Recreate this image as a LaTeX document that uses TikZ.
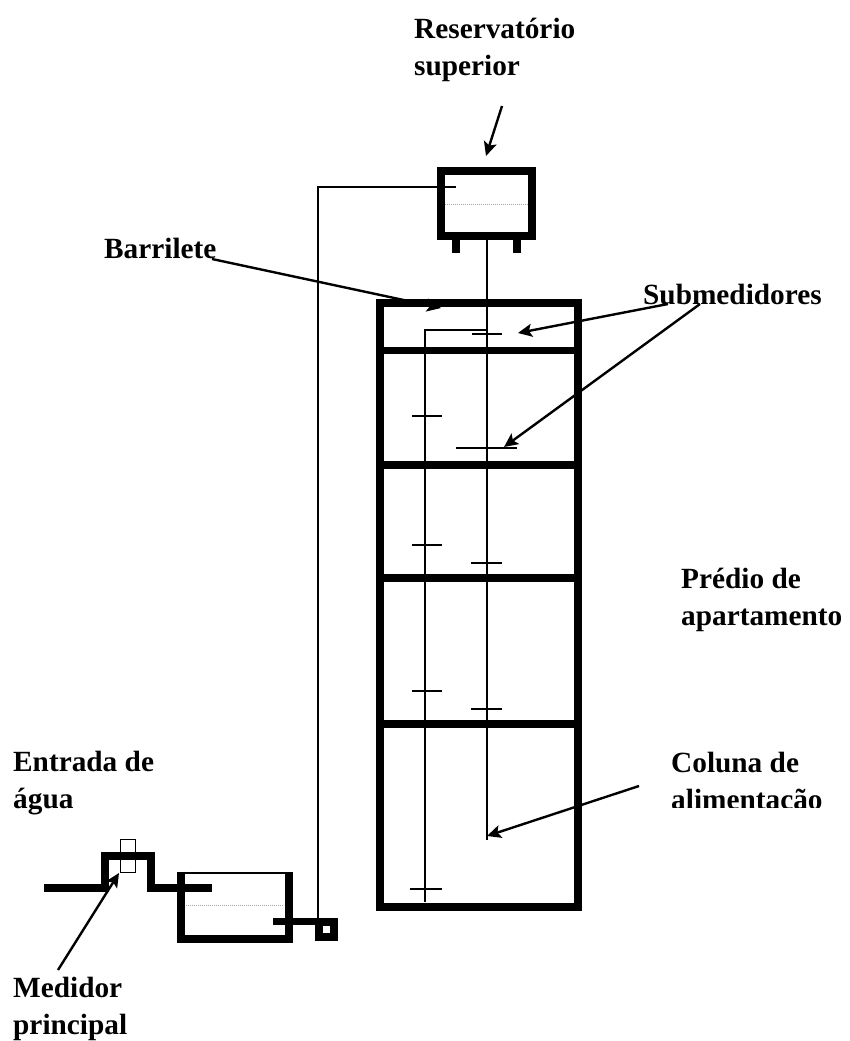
\documentclass[tikz,border=0pt]{standalone}
\usepackage{fontspec}
\setmainfont{Liberation Serif}
\usetikzlibrary{positioning}
\usetikzlibrary{arrows, shapes, arrows.meta}
\tikzstyle{lbl} = [font=\fontsize{29.3}{36.5}\selectfont\bfseries, align=left, inner sep=0pt, anchor=north west]
\tikzstyle{wall} = [draw=black, line width=8pt, line join=miter, inner sep=0pt]
\tikzstyle{pipe} = [line width=2pt]
\tikzstyle{submark} = [line width=1.5pt]
\tikzstyle{waterlevel} = [draw=gray!70, line width=1pt, densely dotted]
\tikzstyle{arrow} = [line width=2.4pt,-{Stealth[length=14pt,width=13pt,inset=3pt]}]

\begin{document}
\begin{tikzpicture}[x=1pt,y=-1pt]
        \useasboundingbox (0,0) rectangle (850,1041);
        % labels
        \node[lbl] (Rs) at (414,18) {Reservat\'orio\\superior};
        \node[lbl] (Ba) at (104,238) {Barrilete};
        \node[lbl] (Su) at (643,283.5) {Submedidores};
        \node[lbl] (Pr) at (681,568) {Pr\'edio de\\apartamento};
        \node[lbl] (En) at (13,751) {Entrada de\\\'agua};
        \node[lbl] (Me) at (13,977) {Medidor\\principal};
        \begin{scope}
            \clip (660,740) rectangle (850,807);
            \node[lbl] (Co) at (671,752) {Coluna de\\alimenta\c{c}\~ao};
        \end{scope}

        \coordinate (RsT) at (502,106);
        \coordinate (RsH) at (486,156);
        \coordinate (BaT) at (212,259);
        \coordinate (BaH) at (441,308);
        \coordinate (SuA) at (668,304);
        \coordinate (SuB) at (518,333);
        \coordinate (SuC) at (700,304);
        \coordinate (SuD) at (504,447);
        \coordinate (CoT) at (639,786);
        \coordinate (CoH) at (487,836);
        \coordinate (MeT) at (58,970);
        \coordinate (MeH) at (119,873);

        % this one runs under the wall
        \path [arrow] (BaT) edge (BaH);

        % building
        \node[wall,minimum width=198pt,minimum height=603.5pt] (Pd) at (479,604.75) {};
        \foreach \y in {350.5,465,578,724} {
            \draw[line width=7.5pt] (Pd.west |- 0,\y) -- (Pd.east |- 0,\y);
        }

        % upper tank
        \draw[waterlevel] (445,204) -- (528,204);
        \node[wall,minimum width=91pt,minimum height=65pt] (Rv) at (486.5,203.5) {};
        \fill (452,240) rectangle (460,253);
        \fill (513,240) rectangle (521,253);
        \coordinate (Cl) at (486.5,840);
        \draw[pipe] (Rv.south) -- (Cl);

        % lower tank and inlet
        \node[draw=black,line width=2pt,minimum width=106pt,minimum height=65pt,inner sep=0pt] (Tq) at (235,905) {};
        \draw[line width=8pt] (Tq.north west) -- (Tq.south west) -- (Tq.south east) -- (Tq.north east);
        \draw[waterlevel] (186,905) -- (284,905);
        \draw[line width=8pt] (44,888) -- (105,888) -- (105,856) -- (151,856) -- (151,888) -- (212,888);
        \node[draw=black,line width=.8pt,minimum width=15pt,minimum height=33pt,inner sep=0pt] (Md) at (128,855.5) {};

        % pump
        \node[wall,minimum size=15pt] (Bb) at (326.5,929.5) {};
        \draw[line width=7pt] (273,921) -- (Bb.west |- 0,921);

        % pipes
        \coordinate (Bi) at (456,187);
        \draw[pipe] (Bb.north -| 318,0) -- (318,187) -- (Bi);
        \coordinate (Rm) at (486,330);
        \draw[pipe] (Rm) -- (425,330) -- (425,902);

        % submeters
        \foreach \xa/\xb/\y in {472/502/334,412/442/416,456/517/448,412/442/545,471/502/563,412/442/691,471/502/709,410/442/889} {
            \draw[submark] (\xa,\y) -- (\xb,\y);
        }

        \path [arrow] (RsT) edge (RsH);
        \path [arrow] (SuA) edge (SuB);
        \path [arrow] (SuC) edge (SuD);
        \path [arrow] (CoT) edge (CoH);
        \path [arrow] (MeT) edge (MeH);
    \end{tikzpicture}
\end{document}
